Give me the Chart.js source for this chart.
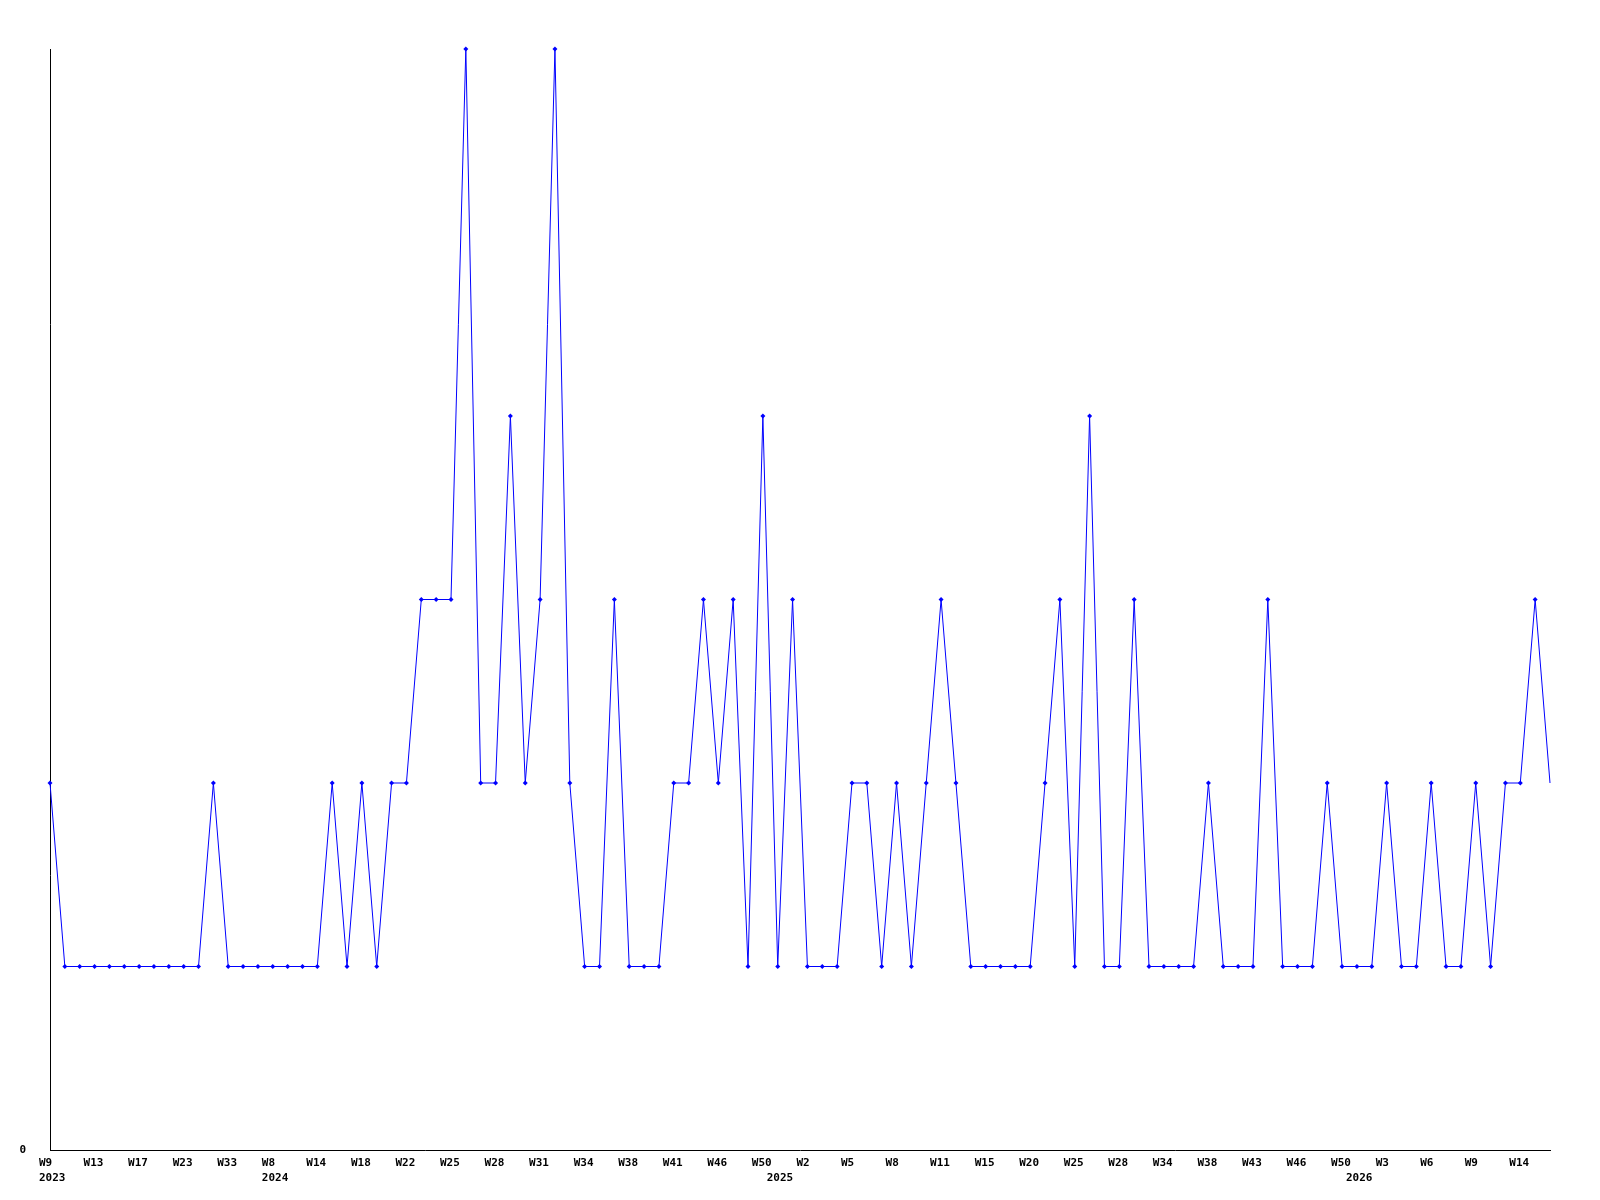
<!DOCTYPE html>
<html>
<head>
<meta charset="utf-8">
<script src="https://cdn.jsdelivr.net/npm/chart.js@4/dist/chart.umd.min.js"></script>
<style>
  html, body { margin: 0; padding: 0; background: #fff; }
  #weekChart { display: block; }
</style>
</head>
<body>
<canvas id="weekChart" width="1600" height="1200"></canvas>
<script>
// week labels shown on the axis (every third point)
const weekTicks = ['W9', 'W13', 'W17', 'W23', 'W33', 'W8', 'W14', 'W18', 'W22', 'W25', 'W28', 'W31',
    'W34', 'W38', 'W41', 'W46', 'W50', 'W2', 'W5', 'W8', 'W11', 'W15', 'W20', 'W25', 'W28', 'W34',
    'W38', 'W43', 'W46', 'W50', 'W3', 'W6', 'W9', 'W14'];

// years under the week row, and the point index where each one sits
const years = ['2023', '2024', '2025', '2026'];
const yearAt = [0, 15, 49, 88];

// weekly counts
const counts = [
    2, 1, 1, 1, 1, 1, 1, 1, 1, 1, 1, 2, 1, 1, 1, 1, 1, 1, 1, 2,
    1, 2, 1, 2, 2, 3, 3, 3, 6, 2, 2, 4, 2, 3, 6, 2, 1, 1, 3, 1,
    1, 1, 2, 2, 3, 2, 3, 1, 4, 1, 3, 1, 1, 1, 2, 2, 1, 2, 1, 2,
    3, 2, 1, 1, 1, 1, 1, 2, 3, 1, 4, 1, 1, 3, 1, 1, 1, 1, 2, 1,
    1, 1, 3, 1, 1, 1, 2, 1, 1, 1, 2, 1, 1, 2, 1, 1, 2, 1, 2, 2,
    3, 2
];

const labels = counts.map((_, i) => i % 3 === 0 ? weekTicks[i / 3] : '');
const tickFont = { family: '"DejaVu Sans Mono", monospace', size: 11, weight: 'bold' };

const ctx = document.getElementById('weekChart').getContext('2d');
new Chart(ctx, {
    type: 'line',
    data: {
        labels: labels,
        datasets: [{
            data: counts,
            borderColor: '#0000ff',
            backgroundColor: '#0000ff',
            borderWidth: 1,
            tension: 0,
            pointStyle: 'rectRot',
            pointRadius: c => c.dataIndex === counts.length - 1 ? 0 : 2.5,
            pointBorderWidth: 0,
            clip: false
        }]
    },
    options: {
        responsive: false,
        animation: false,
        events: [],
        layout: { padding: { top: 49, right: 50, left: 0, bottom: 0 } },
        plugins: { legend: { display: false }, tooltip: { enabled: false } },
        scales: {
            x: {
                type: 'category',
                offset: false,
                grid: { display: false, drawTicks: false },
                border: { display: true, color: '#000', width: 1 },
                ticks: {
                    autoSkip: false,
                    maxRotation: 0,
                    align: 'start',
                    labelOffset: -11,
                    padding: 7,
                    color: '#000',
                    font: tickFont,
                    callback: (v, i) => labels[i]
                },
                afterFit: s => { s.height = 20; }
            },
            x2: {
                type: 'linear',
                position: 'bottom',
                min: 0,
                max: counts.length - 1,
                grid: { display: false, drawTicks: false },
                border: { display: false },
                afterBuildTicks: s => { s.ticks = yearAt.map(v => ({ value: v })); },
                ticks: {
                    autoSkip: false,
                    maxRotation: 0,
                    align: 'start',
                    labelOffset: -11,
                    padding: 2,
                    color: '#000',
                    font: tickFont,
                    callback: v => years[yearAt.indexOf(v)]
                },
                afterFit: s => { s.height = 30; }
            },
            y: {
                min: 0,
                max: 6,
                grid: { display: false, drawTicks: false },
                border: { display: true, color: '#000', width: 1 },
                afterBuildTicks: s => { s.ticks = [{ value: 0 }]; },
                ticks: { padding: 24, color: '#000', font: tickFont },
                afterFit: s => { s.width = 50; }
            }
        }
    }
});
</script>
</body>
</html>
